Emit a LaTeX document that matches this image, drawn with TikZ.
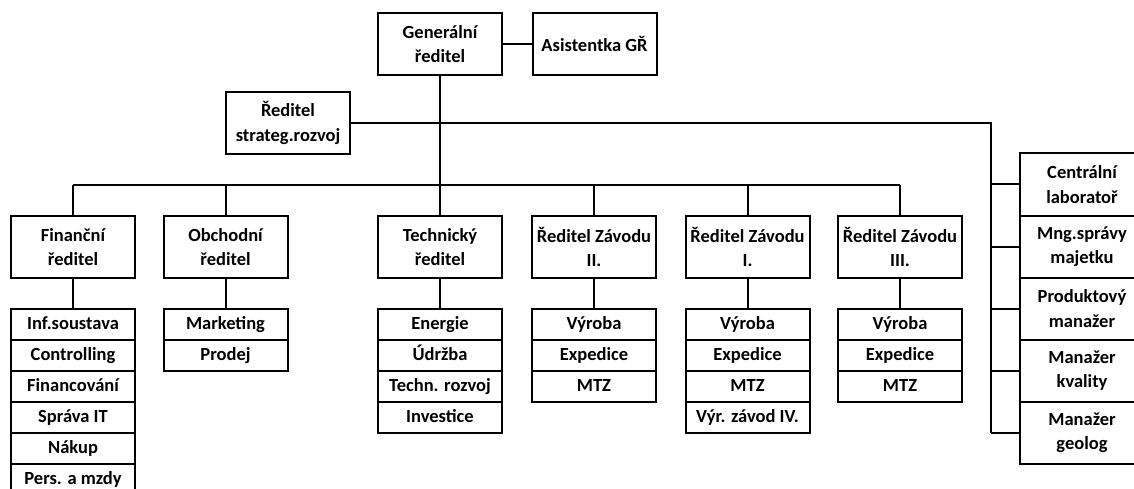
\documentclass[tikz,border=0pt]{standalone}
\usepackage{fontspec}
\setmainfont{Carlito}[BoldFont={Carlito Bold}]
\usepackage{tikz}
\tikzstyle{every node}=[font=\fontsize{18.5}{24.5}\selectfont\bfseries]
\tikzstyle{box}=[draw, minimum width=124pt, minimum height=62pt, inner sep=0pt, align=center]
\tikzstyle{subbox}=[draw, minimum width=124pt, minimum height=31pt, inner sep=0pt, text height=13pt, text depth=4pt, anchor=north]

\begin{document}
\begin{tikzpicture}[x=1pt, y=-1pt, line width=2pt]
    \useasboundingbox (0, 0) rectangle (1134, 489);
    \coordinate (bar) at (0, 185);
    \coordinate (spine) at (991, 0);

    \node [box] (gr) at (440, 44) {Generální\\ředitel};
    \node [box] (asist) at (594.5, 44) {Asistentka GŘ};
    \node [box] (strat) at (288, 123) {Ředitel\\strateg.rozvoj};

    \node [box] (fin) at (73, 247) {Finanční\\ředitel};
    \node [box] (obch) at (225.5, 247) {Obchodní\\ředitel};
    \node [box] (tech) at (440, 247) {Technický\\ředitel};
    \node [box] (zII) at (594, 247) {Ředitel Závodu\\II.};
    \node [box] (zI) at (747.5, 247) {Ředitel Závodu\\I.};
    \node [box] (zIII) at (900, 247) {Ředitel Závodu\\III.};

    \node [box] (lab) at (1082, 184.5) {Centrální\\laboratoř};
    \node [box] (maj) at (1082, 246.5) {Mng.správy\\majetku};
    \node [box] (prod) at (1082, 308.5) {Produktový\\manažer};
    \node [box] (kval) at (1082, 370.5) {Manažer\\kvality};
    \node [box] (geo) at (1082, 432.5) {Manažer\\geolog};

    \foreach \t [count=\i] in {Inf.soustava, Controlling, Financování, Správa IT, Nákup, Pers. a mzdy}
        \node [subbox] (fin\i) at (73, {308 + 31*(\i-1)}) {\t};
    \foreach \t [count=\i] in {Marketing, Prodej}
        \node [subbox] (obch\i) at (225.5, {308 + 31*(\i-1)}) {\t};
    \foreach \t [count=\i] in {Energie, Údržba, Techn. rozvoj, Investice}
        \node [subbox] (tech\i) at (440, {308 + 31*(\i-1)}) {\t};
    \foreach \t [count=\i] in {Výroba, Expedice, MTZ}
        \node [subbox] (zII\i) at (594, {308 + 31*(\i-1)}) {\t};
    \foreach \t [count=\i] in {Výroba, Expedice, MTZ, Výr. závod IV.}
        \node [subbox] (zI\i) at (747.5, {308 + 31*(\i-1)}) {\t};
    \foreach \t [count=\i] in {Výroba, Expedice, MTZ}
        \node [subbox] (zIII\i) at (900, {308 + 31*(\i-1)}) {\t};

    \draw (gr.east) -- (asist.west);
    \draw (gr.south) -- (gr.south |- bar);
    \draw (fin.north |- bar) -- (zIII.north |- bar);
    \foreach \n in {fin, obch, tech, zII, zI, zIII} {
        \draw (\n.north) -- (\n.north |- bar);
        \draw (\n.south) -- (\n1.north);
    }

    \draw (strat.east) -| (spine |- geo.west);
    \foreach \n in {lab, maj, prod, kval, geo}
        \draw (\n.west) -- (\n.west -| spine);
\end{tikzpicture}
\end{document}
